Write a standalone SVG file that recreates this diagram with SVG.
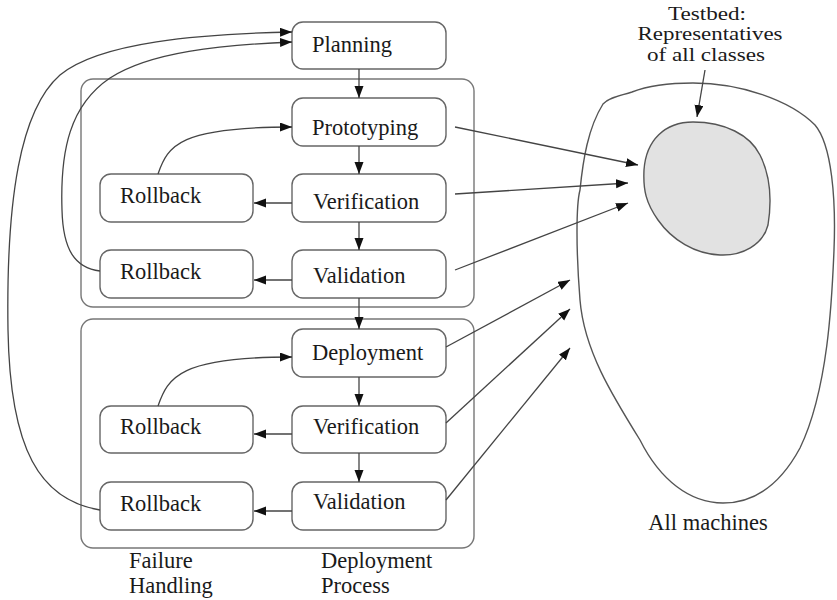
<svg xmlns="http://www.w3.org/2000/svg" width="837" height="600" viewBox="0 0 837 600">
  <defs>
    <marker id="arrow" markerUnits="userSpaceOnUse" markerWidth="13" markerHeight="10" refX="12" refY="4.5" orient="auto">
      <path d="M0,0 L12,4.5 L0,9 z" fill="#111"/>
    </marker>
    <style>
      .box { fill: #fff; stroke: #666; stroke-width: 1.4; }
      .group { fill: none; stroke: #777; stroke-width: 1.4; }
      .edge { fill: none; stroke: #444; stroke-width: 1.3; marker-end: url(#arrow); }
      .blob { fill: none; stroke: #555; stroke-width: 1.4; }
      .lbl { font-family: "Liberation Serif", "DejaVu Serif", serif; font-size: 22.5px; fill: #1a1a1a; }
      .mid { text-anchor: middle; }
      .note { font-size: 18px; }
    </style>
  </defs>

  <rect id="white-bg" x="0" y="0" width="837" height="600" fill="#fff"/>

  <!-- process containers -->
  <g id="test-stage">
    <rect class="group" x="81" y="79" width="393" height="228" rx="12"/>
  </g>
  <g id="deploy-stage">
    <rect class="group" x="81" y="319" width="393" height="229" rx="12"/>
  </g>

  <!-- process steps -->
  <g id="planning">
    <rect class="box" x="292" y="22" width="154" height="47" rx="11"/>
    <text class="lbl" x="312" y="52">Planning</text>
  </g>
  <g id="prototyping">
    <rect class="box" x="292" y="98" width="154" height="48" rx="11"/>
    <text class="lbl" x="312" y="135">Prototyping</text>
  </g>
  <g id="verification-1">
    <rect class="box" x="292" y="174" width="154" height="48" rx="11"/>
    <text class="lbl" x="313" y="209">Verification</text>
  </g>
  <g id="validation-1">
    <rect class="box" x="292" y="250" width="154" height="48" rx="11"/>
    <text class="lbl" x="313" y="283">Validation</text>
  </g>
  <g id="deployment">
    <rect class="box" x="292" y="329" width="154" height="48" rx="11"/>
    <text class="lbl" x="312" y="360">Deployment</text>
  </g>
  <g id="verification-2">
    <rect class="box" x="292" y="406" width="154" height="47" rx="11"/>
    <text class="lbl" x="313" y="434">Verification</text>
  </g>
  <g id="validation-2">
    <rect class="box" x="292" y="482" width="154" height="48" rx="11"/>
    <text class="lbl" x="313" y="509">Validation</text>
  </g>

  <!-- failure handling -->
  <g id="rollback-1">
    <rect class="box" x="100" y="174" width="153" height="48" rx="11"/>
    <text class="lbl" x="120" y="203">Rollback</text>
  </g>
  <g id="rollback-2">
    <rect class="box" x="100" y="250" width="153" height="48" rx="11"/>
    <text class="lbl" x="120" y="279">Rollback</text>
  </g>
  <g id="rollback-3">
    <rect class="box" x="100" y="406" width="153" height="47" rx="11"/>
    <text class="lbl" x="120" y="434">Rollback</text>
  </g>
  <g id="rollback-4">
    <rect class="box" x="100" y="482" width="153" height="48" rx="11"/>
    <text class="lbl" x="120" y="511">Rollback</text>
  </g>

  <!-- machine population -->
  <g id="all-machines">
    <path class="blob" d="M580,300 C576,250 576,205 580,190 C583,160 588,128 603,104 C610,97 620,96 632,92 C650,85 670,83 693,83 C740,83 790,100 815,125 C832,145 836,200 834,250 C832,300 828,390 800,448 C780,485 755,503 723,503 C690,503 660,480 640,440 C612,395 584,350 580,300 Z"/>
    <text class="lbl mid" x="708" y="530">All machines</text>
  </g>
  <g id="testbed">
    <path d="M693,122 C725,122 750,135 760,155 C770,175 772,200 768,225 C763,245 742,256 720,255 C695,254 672,240 658,220 C646,203 643,190 644,170 C646,140 665,122 693,122 Z" fill="#e2e2e2" stroke="#555" stroke-width="1.4"/>
    <text class="lbl mid note" x="707" y="19.5" textLength="78" lengthAdjust="spacingAndGlyphs">Testbed:</text>
    <text class="lbl mid note" x="710" y="40" textLength="145" lengthAdjust="spacingAndGlyphs">Representatives</text>
    <text class="lbl mid note" x="706" y="60.5" textLength="118" lengthAdjust="spacingAndGlyphs">of all classes</text>
  </g>

  <!-- column captions -->
  <g id="captions">
    <text class="lbl" x="129" y="568">Failure</text>
    <text class="lbl" x="129" y="593">Handling</text>
    <text class="lbl" x="321" y="568">Deployment</text>
    <text class="lbl" x="321" y="593">Process</text>
  </g>

  <g id="connectors">
    <!-- main flow -->
    <line class="edge" x1="359" y1="69" x2="359" y2="98"/>
    <line class="edge" x1="359" y1="146" x2="359" y2="174"/>
    <line class="edge" x1="359" y1="222" x2="359" y2="250"/>
    <line class="edge" x1="359" y1="298" x2="359" y2="329"/>
    <line class="edge" x1="359" y1="377" x2="359" y2="406"/>
    <line class="edge" x1="359" y1="453" x2="359" y2="482"/>

    <!-- failures to rollback -->
    <line class="edge" x1="292" y1="203" x2="254" y2="203"/>
    <line class="edge" x1="292" y1="280" x2="254" y2="280"/>
    <line class="edge" x1="292" y1="434" x2="254" y2="434"/>
    <line class="edge" x1="292" y1="511" x2="254" y2="511"/>

    <!-- rollback loops -->
    <path class="edge" d="M158,174 C168,145 180,127 292,127"/>
    <path class="edge" d="M158,406 C168,377 180,357 292,357"/>
    <path class="edge" d="M100,271 C75,268 63,250 62,210 C60,150 70,105 110,78 C150,52 220,45 292,42"/>
    <path class="edge" d="M100,510 C40,500 10,450 8,330 C6,200 20,110 60,75 C100,42 200,34 292,32"/>

    <!-- steps touching the machines -->
    <line class="edge" x1="455" y1="127" x2="638" y2="165"/>
    <line class="edge" x1="455" y1="194" x2="628" y2="183"/>
    <line class="edge" x1="455" y1="270" x2="628" y2="203"/>
    <line class="edge" x1="446" y1="347" x2="570" y2="280"/>
    <line class="edge" x1="446" y1="423" x2="570" y2="309"/>
    <line class="edge" x1="446" y1="500" x2="570" y2="348"/>

    <!-- testbed callout -->
    <line class="edge" x1="705" y1="70" x2="697" y2="117"/>
  </g>
</svg>
